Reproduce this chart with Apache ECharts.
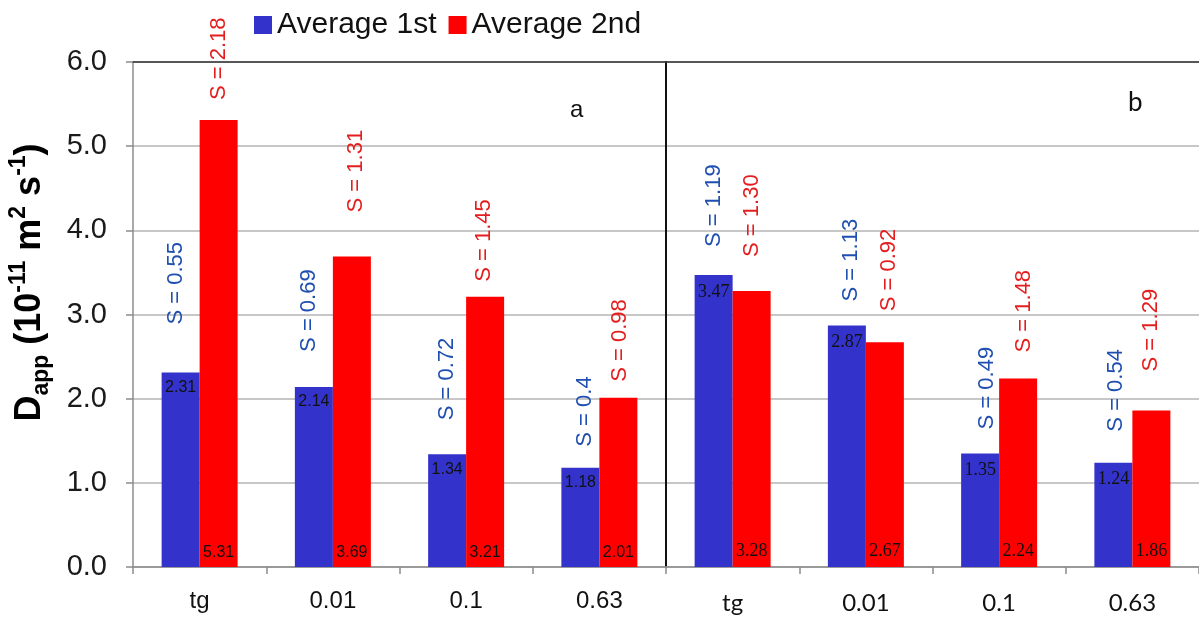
<!DOCTYPE html>
<html>
<head>
<meta charset="utf-8">
<script src="https://cdn.jsdelivr.net/npm/echarts@6/dist/echarts.min.js"></script>
<style>
  html, body { margin: 0; padding: 0; background: #fff; }
  #chart { width: 1199px; height: 619px; }
</style>
</head>
<body>
<div id="chart"></div>
<script>
// Apparent diffusion coefficient, two experiments (a, b), four conditions each
const categories = ['tg', '0.01', '0.1', '0.63'];

const aFirst  = [2.31, 2.14, 1.34, 1.18];
const aSecond = [5.31, 3.69, 3.21, 2.01];
const aSdFirst  = ['0.55', '0.69', '0.72', '0.4'];
const aSdSecond = ['2.18', '1.31', '1.45', '0.98'];

const bFirst  = [3.47, 2.87, 1.35, 1.24];
const bSecond = [3.28, 2.67, 2.24, 1.86];
const bSdFirst  = ['1.19', '1.13', '0.49', '0.54'];
const bSdSecond = ['1.30', '0.92', '1.48', '1.29'];

// Placement of the rotated "S = ..." notes: lift above the bar top and sideways nudge (px)
const aLiftFirst  = [48, 35, 34, 21];
const aLiftSecond = [20, 44, 15, 16];
const aNudgeFirst  = [-5, -5, 0, 5];
const aNudgeSecond = [0, 4, -1, 2];
const bLiftFirst  = [28, 24, 24, 31];
const bLiftSecond = [34, 31, 26, 39];
const bNudgeFirst  = [0, 4, 7, 3];
const bNudgeSecond = [0, 4, 6, 0];

const BLUE = '#3333CC';
const RED = '#FF0000';
const SD_BLUE = '#1F4FB0';
const SD_RED = '#E41E1E';
const BAR_W = 38;
const SANS = 'Liberation Sans, Arial, sans-serif';

const chart = echarts.init(document.getElementById('chart'), null, { renderer: 'canvas' });

function valueAxis(gridIndex, showLabels) {
  return {
    type: 'value', gridIndex, min: 0, max: 6, interval: 1,
    axisLine: { show: true, lineStyle: showLabels ? { color: '#8c8c8c', width: 1.5 } : { color: '#111', width: 2 } },
    axisTick: { show: showLabels, length: 7, lineStyle: { color: '#8c8c8c', width: 1.5 } },
    axisLabel: {
      show: showLabels, fontSize: 29, fontFamily: SANS, color: '#1a1a1a', margin: 26,
      formatter: v => v.toFixed(1)
    },
    splitLine: { show: true, lineStyle: { color: '#b4b4b4', width: 1.5 } }
  };
}

function categoryAxis(gridIndex, font, size, margin) {
  return {
    type: 'category', gridIndex, data: categories,
    axisLine: { show: true, lineStyle: { color: '#8c8c8c', width: 1.5 } },
    axisTick: { show: true, length: 7, lineStyle: { color: '#8c8c8c', width: 1.5 } },
    axisLabel: { fontSize: size, fontFamily: font, color: '#111', margin }
  };
}

function frameTop(gridIndex) {
  return {
    type: 'category', gridIndex, position: 'top', data: categories,
    axisLine: { show: true, lineStyle: { color: '#333', width: 1.5 } },
    axisTick: { show: false }, axisLabel: { show: false }, splitLine: { show: false }
  };
}

function bars(name, idx, data, color, pos, labelFont, labelSize, dist) {
  return {
    name, type: 'bar', xAxisIndex: idx, yAxisIndex: idx,
    data, barWidth: BAR_W, barGap: '0%',
    itemStyle: { color },
    label: {
      show: true, position: pos, distance: dist,
      fontSize: labelSize, fontFamily: labelFont, color: '#111',
      formatter: p => p.value.toFixed(2)
    },
    emphasis: { disabled: true }
  };
}

function sdNotes(idx, values, sds, side, color, lift, nudge) {
  return {
    type: 'custom', xAxisIndex: idx, yAxisIndex: idx, silent: true, z: 5,
    data: values.map((v, i) => [i, v]),
    encode: { x: 0, y: 1 },
    renderItem: (params, api) => {
      const i = params.dataIndex;
      const p = api.coord([api.value(0), api.value(1)]);
      return {
        type: 'text',
        x: p[0] + side * BAR_W / 2 + nudge[i],
        y: p[1] - lift[i],
        rotation: Math.PI / 2,
        style: {
          text: 'S = ' + sds[i], fill: color,
          fontSize: 22, fontFamily: SANS,
          align: 'left', verticalAlign: 'middle'
        }
      };
    }
  };
}

const option = {
  backgroundColor: '#fff',
  animation: false,
  legend: {
    data: ['Average 1st', 'Average 2nd'],
    left: 249, top: 5,
    icon: 'rect', itemWidth: 18, itemHeight: 18, itemGap: 12,
    textStyle: { fontSize: 30, fontFamily: SANS, color: '#111' }
  },
  grid: [
    { left: 133, top: 62, width: 533, height: 505 },
    { left: 666, top: 62, width: 534, height: 505 }
  ],
  xAxis: [
    categoryAxis(0, SANS, 24, 22),
    categoryAxis(1, 'Lato, Carlito, sans-serif', 24, 24),
    frameTop(0),
    frameTop(1)
  ],
  yAxis: [
    Object.assign(valueAxis(0, true), {
      name: '{b|D}{sub|app}{b| (10}{sup|-11}{b| m}{sup|2}{b| s}{sup|-1}{b|)}',
      nameLocation: 'middle', nameRotate: 90, nameGap: 80,
      nameTextStyle: {
        padding: [0, 0, 0, 64],
        rich: {
          b:   { fontSize: 36, fontWeight: 'bold', fontFamily: SANS, color: '#000', lineHeight: 46 },
          sub: { fontSize: 23, fontWeight: 'bold', fontFamily: SANS, color: '#000', lineHeight: 46, verticalAlign: 'bottom' },
          sup: { fontSize: 23, fontWeight: 'bold', fontFamily: SANS, color: '#000', lineHeight: 46, verticalAlign: 'top' }
        }
      }
    }),
    valueAxis(1, false)
  ],
  graphic: [
    { type: 'text', left: 570, top: 98, style: { text: 'a', fontSize: 24, fontFamily: SANS, fill: '#111' } },
    { type: 'text', left: 1128, top: 90, style: { text: 'b', fontSize: 26, fontFamily: 'Lato, sans-serif', fill: '#111' } }
  ],
  series: [
    bars('Average 1st', 0, aFirst, BLUE, 'insideTop', SANS, 16, 7),
    bars('Average 2nd', 0, aSecond, RED, 'insideBottom', SANS, 16, 6),
    bars('Average 1st', 1, bFirst, BLUE, 'insideTop', 'Liberation Serif, serif', 18, 8),
    bars('Average 2nd', 1, bSecond, RED, 'insideBottom', 'Liberation Serif, serif', 18, 7),
    sdNotes(0, aFirst, aSdFirst, -1, SD_BLUE, aLiftFirst, aNudgeFirst),
    sdNotes(0, aSecond, aSdSecond, 1, SD_RED, aLiftSecond, aNudgeSecond),
    sdNotes(1, bFirst, bSdFirst, -1, SD_BLUE, bLiftFirst, bNudgeFirst),
    sdNotes(1, bSecond, bSdSecond, 1, SD_RED, bLiftSecond, bNudgeSecond)
  ]
};

chart.setOption(option);
</script>
</body>
</html>
